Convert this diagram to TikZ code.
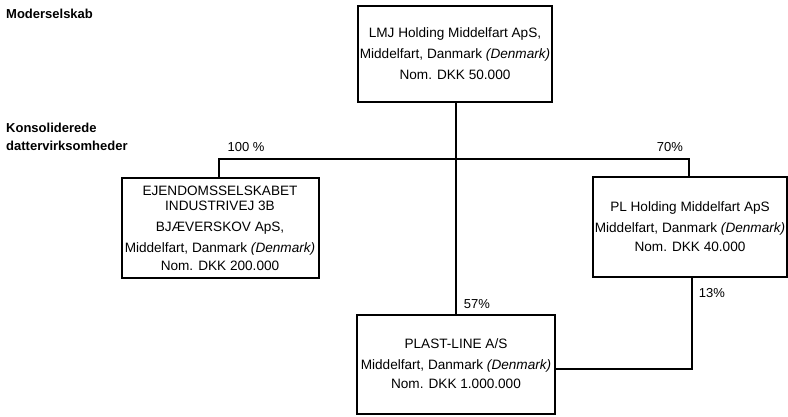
\documentclass[tikz,border=0pt]{standalone}
\usepackage{fontspec}
\setmainfont{Liberation Sans}
\begin{document}
\begin{tikzpicture}[x=1pt,y=-1pt,
  ent/.style={draw=black,line width=2pt,fill=white,align=center,inner sep=0pt,
    font=\fontsize{13.6}{21}\selectfont},
  conn/.style={draw=black,line width=1.5pt},
  pct/.style={font=\fontsize{13}{14}\selectfont,inner sep=0pt},
  hdr/.style={font=\fontsize{13}{18}\selectfont\bfseries,inner sep=0pt,anchor=west,align=left}]
\useasboundingbox (0,0) rectangle (788,417);
% boxes
\node[ent,minimum width=194pt,minimum height=96pt] (top) at (455,54)
  {LMJ Holding Middelfart ApS,\\Middelfart, Danmark \textit{(Denmark)}\\Nom. DKK 50.000};
\node[ent,minimum width=197pt,minimum height=99pt] (left) at (220,228)
  {EJENDOMSSELSKABET\\[-6pt]INDUSTRIVEJ 3B\\BJÆVERSKOV ApS,\\Middelfart, Danmark \textit{(Denmark)}\\[-3pt]Nom. DKK 200.000};
\node[ent,minimum width=194pt,minimum height=99pt] (right) at (690,227)
  {PL Holding Middelfart ApS\\Middelfart, Danmark \textit{(Denmark)}\\[-2pt]Nom. DKK 40.000};
\node[ent,minimum width=198pt,minimum height=99pt] (bot) at (456,364)
  {PLAST-LINE A/S\\Middelfart, Danmark \textit{(Denmark)}\\[-2pt]Nom. DKK 1.000.000};
% junctions
\coordinate (jl) at (219,159);
\coordinate (jr) at (689,159);
\coordinate (jc) at (456,159);
\coordinate (rb) at (692,369);
% connectors
\draw[conn] (top.south -| jc) -- (bot.north -| jc);
\draw[conn] (left.north -| jl) -- (jl) -- (jr) -- (right.north -| jr);
\draw[conn] (right.south -| rb) -- (rb) -- (bot.east |- rb);
% labels
\node[pct] (p100) at (246,147) {100 \%};
\node[pct] (p70) at (670,147) {70\%};
\node[pct] (p57) at (477,304) {57\%};
\node[pct] (p13) at (712,293) {13\%};
\node[hdr] (h1) at (6,14) {Moderselskab};
\node[hdr] (h2) at (6,137) {Konsoliderede\\dattervirksomheder};
\end{tikzpicture}
\end{document}
